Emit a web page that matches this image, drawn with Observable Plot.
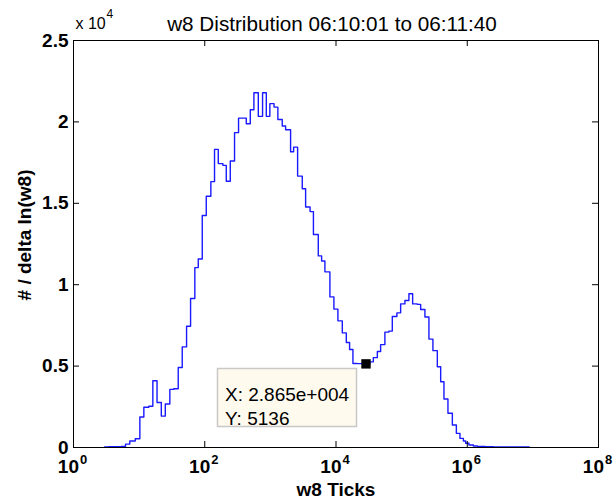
<!DOCTYPE html>
<html>
<head>
<meta charset="utf-8">
<script src="https://cdn.jsdelivr.net/npm/d3@7"></script>
<script src="https://cdn.jsdelivr.net/npm/@observablehq/plot@0.6"></script>
<style>
  html, body { margin: 0; padding: 0; background: #ffffff; }
  #chart { width: 616px; height: 502px; }
</style>
</head>
<body>
<div id="chart"></div>
<script>
// ---- data ----
const titleText = "w8 Distribution 06:10:01 to 06:11:40";
const xLabel = "w8 Ticks";
const yLabel = "# / delta ln(w8)";
const yMultiplier = "x 10";
const yMultiplierExp = "4";

const xTicks = [1, 1e2, 1e4, 1e6, 1e8];
const xTickExp = ["0", "2", "4", "6", "8"];
const yTicks = [0, 5000, 10000, 15000, 20000, 25000];
const yTickLabels = ["0", "0.5", "1", "1.5", "2", "2.5"];

// bin edges, as log10(w8 ticks)
const binEdgesLog10 = [
  0.473, 0.537, 0.601, 0.665, 0.729,
  0.793, 0.858, 0.941, 1.011, 1.072, 1.148, 1.209, 1.273, 1.338, 1.399,
  1.468, 1.529, 1.596, 1.657, 1.723, 1.784, 1.849, 1.901, 1.962, 2.023,
  2.093, 2.149, 2.206, 2.276, 2.328, 2.389, 2.454, 2.515, 2.576, 2.633,
  2.694, 2.749, 2.816, 2.881, 2.938, 2.992, 3.056, 3.114, 3.181, 3.232,
  3.308, 3.354, 3.415, 3.486, 3.537, 3.605, 3.656, 3.730, 3.781, 3.831,
  3.907, 3.968, 4.029, 4.096, 4.157, 4.207, 4.258,
  4.323, 4.390, 4.457, 4.514, 4.569,
  4.630, 4.680, 4.745, 4.806, 4.858, 4.928, 4.985, 5.050, 5.111, 5.168,
  5.239, 5.290, 5.355, 5.416, 5.477, 5.544, 5.595, 5.645, 5.706, 5.773,
  5.834, 5.889, 5.941, 5.976, 6.026, 6.093,
  6.154, 6.215, 6.276, 6.337, 6.398, 6.459, 6.520, 6.581, 6.642, 6.703,
  6.764, 6.825, 6.886, 6.944
];

// counts per bin (# / delta ln(w8))
const binCounts = [
  40, 50, 50, 50, 60,
  210, 400, 540, 1870, 2470, 2530, 4100, 2760, 1930, 2670,
  3570, 3610, 4910, 6180, 7450, 9150, 11050, 11580, 14250, 15430,
  16330, 18310, 17440, 17330, 16350, 17600, 19340, 20230, 20230, 19890,
  20750, 21790, 20340, 21790, 20340, 21120, 20910, 20150, 19750, 19520,
  18170, 18450, 16670, 15890, 14770, 14490, 13080, 11770, 11460, 10790,
  9250, 8500, 7780, 7040, 6450, 6020,
  5160, 5150, 5170, 5136, 5260,
  5520, 5900, 6320, 7090, 7150, 8050, 8270, 8820, 9030, 9440,
  8820, 8790, 8480, 8020, 6660, 5950, 4960, 4040, 2980, 2100,
  1380, 870, 560, 400, 260, 150,
  90, 70, 60, 50, 50, 40, 40, 40, 40, 40,
  40, 40, 40, 40
];

const tipX = 2.865e4;
const tipY = 5136;
const tipLines = ["X: 2.865e+004", "Y: 5136"];

// ---- build ----
const stairs = binCounts.map((c, i) => ({x: 10 ** binEdgesLog10[i], y: c}));
stairs.push({x: 10 ** binEdgesLog10[binCounts.length], y: binCounts[binCounts.length - 1]});

const W = 616, H = 502;
const mL = 73, mR = 18, mT = 40, mB = 55;
const innerW = W - mL - mR, innerH = H - mT - mB;
const tickLen = 6;
const font = "'Liberation Sans', Arial, Helvetica, sans-serif";

const tipBox = (index, scales) => {
  const px = scales.x(tipX), py = scales.y(tipY);
  const g = d3.create("svg:g");
  g.append("rect")
    .attr("x", Math.round(px - 148) + 0.5)
    .attr("y", Math.round(py + 5) + 0.5)
    .attr("width", 139)
    .attr("height", 58)
    .attr("fill", "#fffaee")
    .attr("stroke", "#c8c8c8")
    .attr("stroke-width", 1.5);
  return g.node();
};

const chart = Plot.plot({
  width: W,
  height: H,
  marginLeft: mL,
  marginRight: mR,
  marginTop: mT,
  marginBottom: mB,
  style: {fontFamily: font, background: "#ffffff", color: "#000"},
  x: {type: "log", domain: [1, 1e8], axis: null},
  y: {domain: [0, 25000], axis: null},
  marks: [
    Plot.line(stairs, {x: "x", y: "y", curve: "step-after", stroke: "#1a1aff", strokeWidth: 1.4}),
    // inward ticks, bottom & top
    Plot.tickX(xTicks.slice(1, -1), {x: d => d, insetTop: innerH - tickLen, stroke: "#000"}),
    Plot.tickX(xTicks.slice(1, -1), {x: d => d, insetBottom: innerH - tickLen, stroke: "#000"}),
    // inward ticks, left & right
    Plot.tickY(yTicks.slice(1, -1), {y: d => d, insetRight: innerW - tickLen, stroke: "#000"}),
    Plot.tickY(yTicks.slice(1, -1), {y: d => d, insetLeft: innerW - tickLen, stroke: "#000"}),
    Plot.frame({stroke: "#000", strokeWidth: 1}),
    // y tick labels
    Plot.text(yTicks, {y: d => d, text: (d, i) => yTickLabels[i], frameAnchor: "left", dx: -5,
      textAnchor: "end", fontSize: 19, fontWeight: "bold", fill: "#000"}),
    // x tick labels: 10 with superscript exponent
    Plot.text(xTicks, {x: d => d, text: () => "10", frameAnchor: "bottom", dx: 5.5, dy: 25,
      textAnchor: "end", fontSize: 19, fontWeight: "bold", fill: "#000"}),
    Plot.text(xTicks, {x: d => d, text: (d, i) => xTickExp[i], frameAnchor: "bottom", dx: 6.5, dy: 16,
      textAnchor: "start", fontSize: 13, fontWeight: "bold", fill: "#000"}),
    // axis labels
    Plot.text([xLabel], {text: d => d, frameAnchor: "bottom", dy: 48, fontSize: 19, fontWeight: "bold", fill: "#000"}),
    Plot.text([yLabel], {text: d => d, frameAnchor: "left", dx: -49, dy: -9, rotate: -90,
      textAnchor: "middle", lineAnchor: "middle", fontSize: 19, fontWeight: "bold", fill: "#000"}),
    // title and multiplier
    Plot.text([titleText], {text: d => d, frameAnchor: "top", dx: -4, dy: -24, fontSize: 20.7, fill: "#000"}),
    Plot.text([yMultiplier], {text: d => d, frameAnchor: "top-left", dx: 2, dy: -23, textAnchor: "start",
      fontSize: 16, fill: "#000"}),
    Plot.text([yMultiplierExp], {text: d => d, frameAnchor: "top-left", dx: 33, dy: -31, textAnchor: "start",
      fontSize: 12, fill: "#000"}),
    // data tip
    tipBox,
    Plot.text([tipLines.join("\n")], {x: () => tipX, y: () => tipY, text: d => d, dx: -141, dy: 20,
      textAnchor: "start", lineAnchor: "top", lineHeight: 1.28, fontSize: 19, fill: "#000"}),
    Plot.dot([tipX], {x: d => d, y: () => tipY, symbol: "square", r: 5.3, fill: "#000", stroke: "none"})
  ]
});

document.getElementById("chart").appendChild(chart);
</script>
</body>
</html>
